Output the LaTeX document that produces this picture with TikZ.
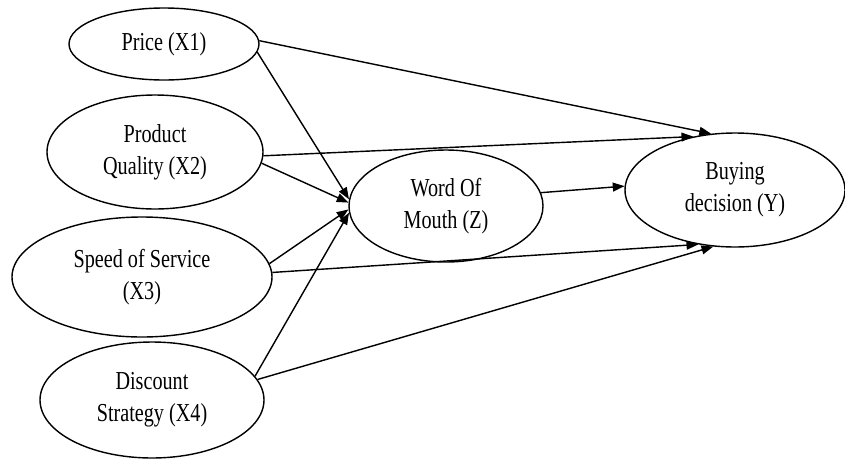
\documentclass[tikz,border=0pt]{standalone}
\usepackage{fontspec}
\setmainfont{Liberation Serif}[FakeStretch=0.78]
\usepackage{tikz}
\usetikzlibrary{arrows.meta}
\usetikzlibrary{shapes.geometric}
\tikzset{
  var/.style={draw, ellipse, line width=1.2pt, inner sep=0pt, align=center,
    font=\fontsize{22}{27}\selectfont},
  path/.style={-{Triangle[length=10pt, width=7.5pt]}, line width=1.2pt}
}

\begin{document}
\begin{tikzpicture}[x=0.85pt, y=-0.85pt]
  \useasboundingbox (0,0) rectangle (845,458);
  % Ellipses
  \node[var, minimum width=161.5pt, minimum height=61.2pt] (x1) at (164,44) {Price (X1)};
  \node[var, minimum width=183.6pt, minimum height=96.9pt] (x2) at (155,152) {Product\\Quality (X2)};
  \node[var, minimum width=221pt, minimum height=102pt] (x3) at (142,277) {Speed of Service\\(X3)};
  \node[var, minimum width=190.4pt, minimum height=98.6pt] (x4) at (152,400) {Discount\\Strategy (X4)};
  \node[var, minimum width=164.9pt, minimum height=95.2pt] (z) at (446,206) {Word Of\\Mouth (Z)};
  \node[var, minimum width=187pt, minimum height=96.9pt] (y) at (735,190) {Buying\\decision (Y)};
  % Paths to Z
  \draw[path] (x1.-5) -- (z.176);
  \draw[path] (x2.-6) -- (z.178);
  \draw[path] (x3.6) -- (z.182);
  \draw[path] (x4.13) -- (z.184);
  % Paths to Y
  \draw[path] (x1.2) -- (y.113);
  \draw[path] (x2.-2) -- (y.128);
  \draw[path] (x3.2) -- (y.236);
  \draw[path] (x4.11) -- (y.249);
  \draw[path] (z.8) -- (y.178);
\end{tikzpicture}
\end{document}
